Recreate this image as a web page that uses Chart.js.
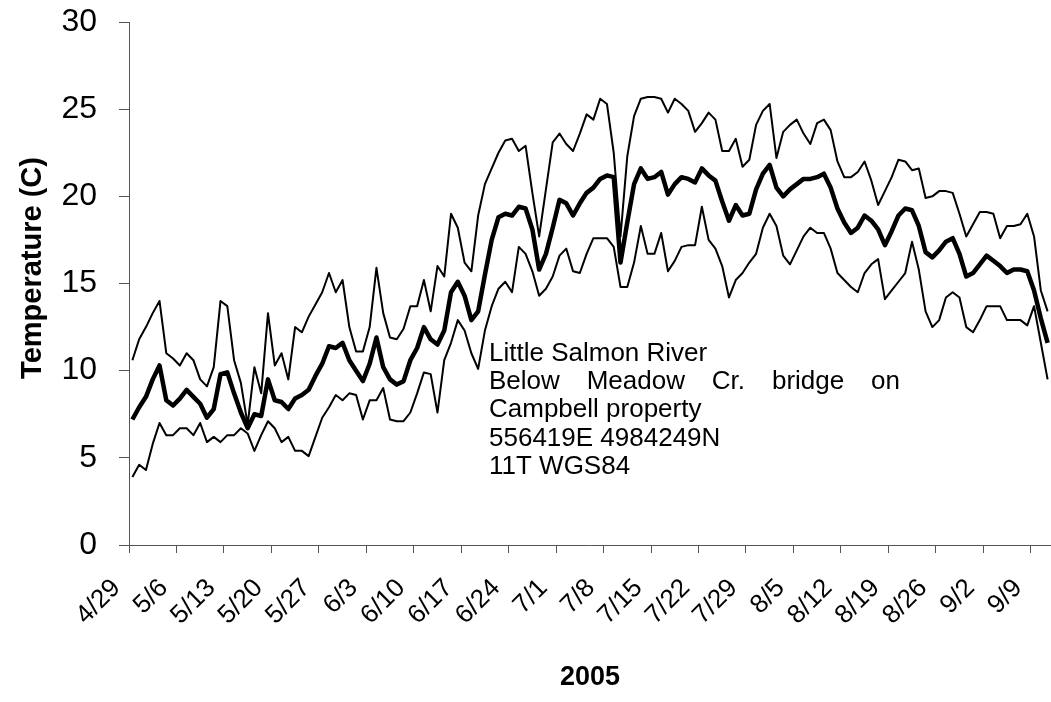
<!DOCTYPE html>
<html><head><meta charset="utf-8">
<script src="https://cdn.jsdelivr.net/npm/chart.js@4/dist/chart.umd.min.js"></script>
<style>html,body{margin:0;padding:0;background:#fff;overflow:hidden}#wrap{width:1051px;height:702px;position:relative}</style>
</head><body><div id="wrap"><canvas id="c" width="1051" height="702"></canvas></div>
<script>
const categories = [
'4/29','4/30',
'5/1','5/2','5/3','5/4','5/5','5/6','5/7','5/8','5/9','5/10','5/11','5/12','5/13','5/14','5/15','5/16','5/17','5/18','5/19','5/20','5/21','5/22','5/23','5/24','5/25','5/26','5/27','5/28','5/29','5/30','5/31',
'6/1','6/2','6/3','6/4','6/5','6/6','6/7','6/8','6/9','6/10','6/11','6/12','6/13','6/14','6/15','6/16','6/17','6/18','6/19','6/20','6/21','6/22','6/23','6/24','6/25','6/26','6/27','6/28','6/29','6/30',
'7/1','7/2','7/3','7/4','7/5','7/6','7/7','7/8','7/9','7/10','7/11','7/12','7/13','7/14','7/15','7/16','7/17','7/18','7/19','7/20','7/21','7/22','7/23','7/24','7/25','7/26','7/27','7/28','7/29','7/30','7/31',
'8/1','8/2','8/3','8/4','8/5','8/6','8/7','8/8','8/9','8/10','8/11','8/12','8/13','8/14','8/15','8/16','8/17','8/18','8/19','8/20','8/21','8/22','8/23','8/24','8/25','8/26','8/27','8/28','8/29','8/30','8/31',
'9/1','9/2','9/3','9/4','9/5','9/6','9/7','9/8','9/9','9/10','9/11'
];
const labelEvery = 7;

const maxTemp = [
10.6,11.8,12.5,13.3,14.0,11.0,10.7,10.3,11.0,10.6,
9.5,9.1,10.2,14.0,13.7,10.6,9.3,6.9,10.2,8.7,
13.3,10.3,11.0,9.5,12.5,12.2,13.1,13.8,14.5,15.6,
14.5,15.2,12.5,11.1,11.1,12.5,15.9,13.3,11.9,11.8,
12.4,13.7,13.7,15.2,13.4,16.0,15.4,19.0,18.2,16.2,
15.7,18.9,20.7,21.6,22.5,23.2,23.3,22.6,22.9,20.2,
17.7,20.4,23.1,23.6,23.0,22.6,23.6,24.7,24.4,25.6,
25.3,22.5,17.7,22.3,24.6,25.6,25.7,25.7,25.6,24.8,
25.6,25.3,24.9,23.7,24.2,24.8,24.4,22.6,22.6,23.3,
21.7,22.1,24.1,24.9,25.3,22.2,23.7,24.1,24.4,23.6,
23.0,24.2,24.4,23.8,22.0,21.1,21.1,21.4,22.0,20.9,
19.5,20.3,21.1,22.1,22.0,21.5,21.6,19.9,20.0,20.3,
20.3,20.2,19.0,17.7,18.4,19.1,19.1,19.0,17.6,18.3,
18.3,18.4,19.0,17.7,14.6,13.4
];
const meanTemp = [
7.2,7.9,8.5,9.5,10.3,8.3,8.0,8.4,8.9,8.5,
8.1,7.3,7.8,9.8,9.9,8.7,7.6,6.7,7.5,7.4,
9.5,8.3,8.2,7.8,8.4,8.6,8.9,9.7,10.4,11.4,
11.3,11.6,10.6,10.0,9.4,10.4,11.9,10.2,9.5,9.2,
9.4,10.6,11.3,12.5,11.8,11.5,12.3,14.5,15.1,14.3,
12.9,13.4,15.5,17.5,18.8,19.0,18.9,19.4,19.3,18.1,
15.8,16.7,18.2,19.8,19.6,18.9,19.6,20.2,20.5,21.0,
21.2,21.1,16.2,18.5,20.7,21.6,21.0,21.1,21.4,20.1,
20.7,21.1,21.0,20.8,21.6,21.2,20.9,19.7,18.6,19.5,
18.9,19.0,20.4,21.3,21.8,20.5,20.0,20.4,20.7,21.0,
21.0,21.1,21.3,20.5,19.3,18.5,17.9,18.2,18.9,18.6,
18.1,17.2,18.0,18.9,19.3,19.2,18.3,16.8,16.5,16.9,
17.4,17.6,16.7,15.4,15.6,16.1,16.6,16.3,16.0,15.6,
15.8,15.8,15.7,14.6,13.0,11.6
];
const minTemp = [
3.9,4.6,4.3,5.8,7.0,6.3,6.3,6.7,6.7,6.3,
7.0,5.9,6.2,5.9,6.3,6.3,6.7,6.4,5.4,6.3,
7.1,6.7,5.9,6.2,5.4,5.4,5.1,6.2,7.3,7.9,
8.6,8.3,8.7,8.6,7.2,8.3,8.3,9.0,7.2,7.1,
7.1,7.6,8.7,9.9,9.8,7.6,10.6,11.6,12.9,12.3,
11.0,10.1,12.3,13.7,14.7,15.1,14.5,17.1,16.7,15.7,
14.3,14.7,15.4,16.6,17.0,15.7,15.6,16.7,17.6,17.6,
17.6,17.1,14.8,14.8,16.2,18.3,16.7,16.7,17.9,15.7,
16.3,17.1,17.2,17.2,19.4,17.5,17.0,16.0,14.2,15.2,
15.6,16.2,16.7,18.2,19.0,18.3,16.6,16.1,16.9,17.7,
18.2,17.9,17.9,17.0,15.6,15.2,14.8,14.5,15.6,16.1,
16.4,14.1,14.6,15.1,15.6,17.4,15.8,13.4,12.5,12.9,
14.2,14.5,14.2,12.5,12.2,12.9,13.7,13.7,13.7,12.9,
12.9,12.9,12.6,13.7,11.6,9.5
];
const yMin = 0, yMax = 30, yStep = 5;
const yTitle = 'Temperature (C)';
const xTitle = '2005';
const noteLines = ['Little Salmon River','Below Meadow Cr. bridge on','Campbell property','556419E 4984249N','11T WGS84'];

const FONT = '"Liberation Sans", Arial, Helvetica, sans-serif';
const AXIS = '#555';

const notePlugin = {
  id: 'note',
  afterDatasetsDraw(chart) {
    const ctx = chart.ctx, a = chart.chartArea;
    const x0 = a.left + 360, w = 411, y0 = 360.5, lh = 28.4;
    ctx.save();
    ctx.fillStyle = '#000';
    ctx.font = '26px ' + FONT;
    ctx.textBaseline = 'alphabetic';
    ctx.textAlign = 'left';
    noteLines.forEach((line, k) => {
      const y = y0 + k * lh;
      if (k === 1) {
        const words = line.split(' ');
        const total = words.reduce((s, t) => s + ctx.measureText(t).width, 0);
        const gap = (w - total) / (words.length - 1);
        let x = x0;
        words.forEach(t => { ctx.fillText(t, x, y); x += ctx.measureText(t).width + gap; });
      } else {
        ctx.fillText(line, x0, y);
      }
    });
    // y-axis title (rotated), placed like the original
    ctx.translate(33, a.top + 246);
    ctx.rotate(-Math.PI / 2);
    ctx.font = 'bold 29px ' + FONT;
    ctx.textAlign = 'center';
    ctx.textBaseline = 'middle';
    ctx.fillText(yTitle, 0, 0);
    ctx.restore();
  }
};

const thin = {borderColor:'#000', borderWidth:2, pointRadius:0, tension:0, fill:false, borderJoinStyle:'round'};
new Chart(document.getElementById('c'), {
  type: 'line',
  data: {
    labels: categories,
    datasets: [
      Object.assign({label:'Max', data:maxTemp, order:2}, thin),
      Object.assign({label:'Min', data:minTemp, order:3}, thin),
      {label:'Mean', data:meanTemp, borderColor:'#000', borderWidth:4.5, pointRadius:0, tension:0, fill:false, borderJoinStyle:'round', order:1}
    ]
  },
  options: {
    responsive:false, animation:false, devicePixelRatio:1,
    layout:{padding:{top:22,right:0,bottom:0,left:0}},
    plugins:{legend:{display:false}, tooltip:{enabled:false}},
    scales:{
      x:{
        type:'category', offset:true,
        grid:{offset:true, drawOnChartArea:false, drawTicks:true, tickLength:8, lineWidth:1,
              color:(c)=> (c.index !== undefined && c.index % labelEvery === 0) ? AXIS : 'rgba(0,0,0,0)'},
        border:{display:true, color:AXIS, width:1},
        ticks:{autoSkip:false, maxRotation:45, minRotation:45, color:'#000', padding:20, labelOffset:-16,
               font:{family:FONT, size:26},
               callback:(v,i)=> i % labelEvery === 0 ? categories[i] : ''},
        title:{display:true, text:xTitle, color:'#000', font:{family:FONT, size:27, weight:'bold'}, padding:{top:0,bottom:8}},
        afterFit(s){ s.height = 702 - 545; s.paddingLeft = 0; s.paddingRight = 0; }
      },
      y:{
        min:yMin, max:yMax,
        grid:{drawOnChartArea:false, drawTicks:true, tickLength:10, color:AXIS, lineWidth:1},
        border:{display:true, color:AXIS, width:1},
        ticks:{stepSize:yStep, color:'#000', padding:22, font:{family:FONT, size:32}},
        title:{display:false, text:yTitle},
        afterFit(s){ s.width = 129; s.paddingTop = 0; s.paddingBottom = 0; }
      }
    }
  },
  plugins:[notePlugin]
});
</script></body></html>
